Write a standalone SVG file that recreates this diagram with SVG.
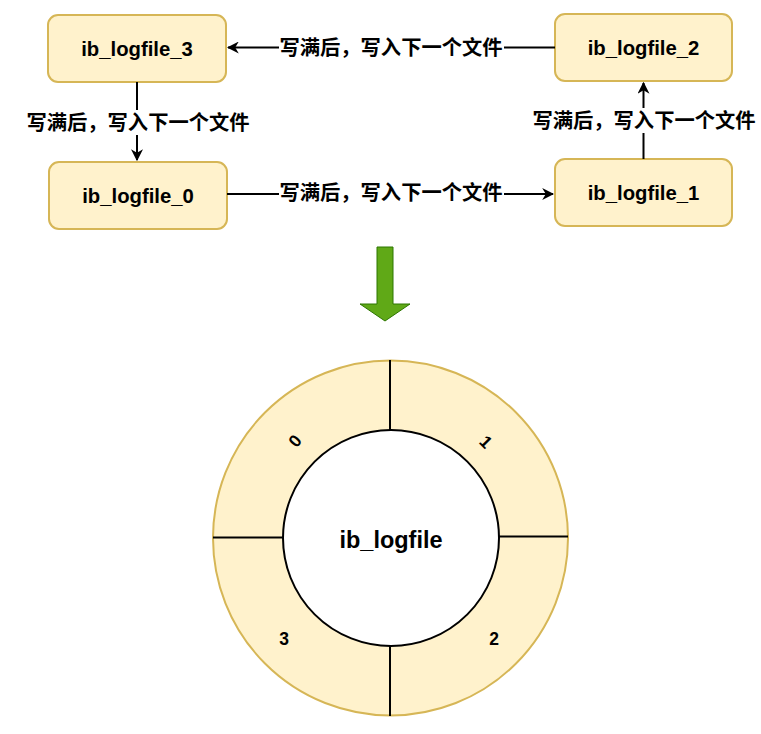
<svg xmlns="http://www.w3.org/2000/svg" width="761" height="734" viewBox="0 0 761 734">
<style>
.box{fill:#fff2cc;stroke:#d6b656;stroke-width:2}
.lbl{font-family:"Liberation Sans","Noto Sans CJK SC",Arial,sans-serif;font-weight:bold;fill:#000;text-anchor:middle;dominant-baseline:central}
.cn{font-family:"Liberation Sans","Noto Sans CJK SC",sans-serif;font-weight:bold;font-size:20.3px;fill:#000;text-anchor:middle;dominant-baseline:central}
.edge{stroke:#000;stroke-width:2;fill:none}
.div{stroke:#000;stroke-width:2}
</style>
<defs>
<marker id="arr" viewBox="0 0 10 10" refX="9" refY="5" markerWidth="6" markerHeight="6" markerUnits="strokeWidth" orient="auto">
<path d="M0,0 L10,5 L0,10 L3,5 Z" fill="#000"/>
</marker>
</defs>
<rect width="761" height="734" fill="#fff"/>

<g id="node-ib3">
<rect class="box" x="48" y="15" width="178" height="67" rx="10"/>
<text class="lbl" x="137" y="48.5" font-size="20.3">ib_logfile_3</text>
</g>
<g id="node-ib2">
<rect class="box" x="555" y="14" width="177" height="67" rx="10"/>
<text class="lbl" x="643.5" y="47.5" font-size="20.3">ib_logfile_2</text>
</g>
<g id="node-ib0">
<rect class="box" x="49" y="162" width="178" height="67" rx="10"/>
<text class="lbl" x="138" y="195.5" font-size="20.3">ib_logfile_0</text>
</g>
<g id="node-ib1">
<rect class="box" x="555" y="159" width="177" height="67" rx="10"/>
<text class="lbl" x="643.5" y="192.5" font-size="20.3">ib_logfile_1</text>
</g>

<g id="connectors">
<line class="edge" x1="555" y1="47.5" x2="228" y2="47.5" marker-end="url(#arr)"/>
<rect x="279" y="35" width="225" height="25" fill="#fff"/>
<text class="cn" x="391" y="47.5">写满后，写入下一个文件</text>

<line class="edge" x1="227" y1="194" x2="553" y2="194" marker-end="url(#arr)"/>
<rect x="279" y="181" width="225" height="25" fill="#fff"/>
<text class="cn" x="391" y="193">写满后，写入下一个文件</text>

<line class="edge" x1="137" y1="82" x2="137" y2="160" marker-end="url(#arr)"/>
<rect x="26" y="110" width="224" height="25" fill="#fff"/>
<text class="cn" x="138" y="123">写满后，写入下一个文件</text>

<line class="edge" x1="643.5" y1="159" x2="643.5" y2="83" marker-end="url(#arr)"/>
<rect x="532" y="108" width="224" height="25" fill="#fff"/>
<text class="cn" x="644" y="121">写满后，写入下一个文件</text>
</g>

<g id="down-arrow">
<path d="M377,247 L393,247 L393,304 L410,304 L385,321 L360,304 L377,304 Z" fill="#60a917" stroke="#2d7600" stroke-width="1"/>
</g>

<g id="ring">
<circle cx="390.5" cy="538" r="177.5" fill="#fff2cc" stroke="#d6b656" stroke-width="2"/>
<line class="div" x1="390" y1="360" x2="390" y2="430"/>
<line class="div" x1="390" y1="646" x2="390" y2="716"/>
<line class="div" x1="213" y1="537.5" x2="283" y2="537.5"/>
<line class="div" x1="498" y1="536.5" x2="568" y2="536.5"/>
<circle cx="391" cy="538" r="108" fill="#fff" stroke="#000" stroke-width="2"/>
<text class="lbl" x="391" y="540" font-size="23.5">ib_logfile</text>
<text class="lbl" x="295" y="441" font-size="17.5" transform="rotate(-50 295 441)">0</text>
<text class="lbl" x="486" y="442" font-size="17.5" transform="rotate(45 486 442)">1</text>
<text class="lbl" x="494" y="639" font-size="17.5">2</text>
<text class="lbl" x="284" y="639" font-size="17.5">3</text>
</g>
</svg>
